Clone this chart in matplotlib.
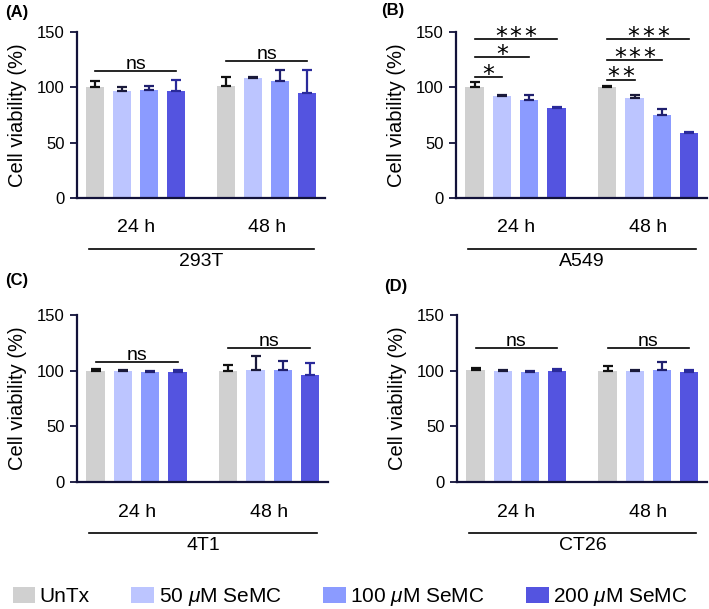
import matplotlib.pyplot as plt
from matplotlib.patches import Patch

plt.rcParams['font.family'] = ['Liberation Sans', 'DejaVu Sans']
plt.rcParams['mathtext.fontset'] = 'custom'
plt.rcParams['mathtext.rm'] = 'Liberation Sans'
plt.rcParams['mathtext.it'] = 'Liberation Sans:italic'

timepoints = ['24 h', '48 h']
treatments = ['UnTx', '50 $\\mu$M SeMC', '100 $\\mu$M SeMC', '200 $\\mu$M SeMC']
cell_lines = ['293T', 'A549', '4T1', 'CT26']
panel_tags = ['(A)', '(B)', '(C)', '(D)']
yticks = [0, 50, 100, 150]

# mean viability (%), rows = timepoints, cols = treatments
mean_293t = [[100, 97, 98, 97], [101, 108, 106, 95]]
err_293t = [[6, 3.5, 3, 10], [8, 1, 10, 21]]
mean_a549 = [[100, 92, 89, 81], [100, 90, 75, 59]]
err_a549 = [[5, 1.5, 4, 1], [1, 3.5, 5, 1]]
mean_4t1 = [[100, 100, 99, 99], [100, 100.5, 100.5, 96]]
err_4t1 = [[1.5, 1, 1, 1.5], [5.5, 13, 8, 10.5]]
mean_ct26 = [[101, 100, 99, 100], [100, 100, 100.5, 99]]
err_ct26 = [[1.5, 1, 1, 1.5], [4.5, 1, 7, 1.5]]

# significance brackets: (timepoint, from bar, to bar, height, label)
sig_293t = [(0, 0, 3, 115, 'ns'), (1, 0, 3, 123.5, 'ns')]
sig_a549 = [(0, 0, 1, 109.5, '*'), (0, 0, 2, 127.5, '*'), (0, 0, 3, 144, '***'),
            (1, 0, 1, 107, '**'), (1, 0, 2, 124.5, '***'), (1, 0, 3, 143.5, '***')]
sig_4t1 = [(0, 0, 3, 108, 'ns'), (1, 0, 3, 120.5, 'ns')]
sig_ct26 = [(0, 0, 3, 120, 'ns'), (1, 0, 3, 120, 'ns')]

BAR_COLOURS = ['#d0d0d0', '#bcc5ff', '#8b9bff', '#5454e0']
ERR_COLOURS = ['#111111', '#1a1a3a', '#20206e', '#2a2a9a']
SPINE_COLOUR = '#12123a'
GROUP_OFFSET = 4.85
STAR_PITCH = 10.5  # points between neighbouring asterisks

W, H = 709, 609
fig = plt.figure(figsize=(W / 100, H / 100), dpi=100)

# axes boxes in pixels: left, right, top, bottom
boxes = [(77, 325, 32, 198), (456, 707, 32, 198), (77, 328, 315, 482), (457, 707, 315, 482)]
means = [mean_293t, mean_a549, mean_4t1, mean_ct26]
errs = [err_293t, err_a549, err_4t1, err_ct26]
sigs = [sig_293t, sig_a549, sig_4t1, sig_ct26]
tag_pos = [(5, 13), (381, 11), (5, 280), (384, 286)]


def bar_x(t, i):
    return t * GROUP_OFFSET + i


for k in range(4):
    l, r, t_, b = boxes[k]
    ax = fig.add_axes([l / W, 1 - b / H, (r - l) / W, (b - t_) / H])

    for t in range(len(timepoints)):
        for i in range(len(treatments)):
            x = bar_x(t, i)
            m = means[k][t][i]
            e = errs[k][t][i]
            ax.bar(x, m, width=0.67, color=BAR_COLOURS[i], zorder=2)
            ax.errorbar(x, m, yerr=[[0], [e]], fmt='none', ecolor=ERR_COLOURS[i],
                        elinewidth=1.6, capsize=3.6, capthick=1.6, zorder=3)

    # significance lines
    for t, i0, i1, y, lab in sigs[k]:
        x0, x1 = bar_x(t, i0), bar_x(t, i1)
        xc = (x0 + x1) / 2
        ax.plot([x0, x1], [y, y], color='k', lw=1.2, clip_on=False)
        if lab == 'ns':
            ax.annotate(lab, xy=(xc, y), xytext=(0, 1.5), textcoords='offset points',
                        ha='center', va='baseline', fontsize=14)
        else:
            n = len(lab)
            for j in range(n):
                dx = (j - (n - 1) / 2) * STAR_PITCH
                ax.annotate('*', xy=(xc, y), xytext=(dx, -3.5), textcoords='offset points',
                            ha='center', va='baseline', fontsize=17, family='DejaVu Sans')

    # group labels, separator line and cell line name below the axis
    trans = ax.get_xaxis_transform()
    for t, lab in enumerate(timepoints):
        ax.text(bar_x(t, 1.5), -0.18, lab, transform=trans, ha='center', va='center', fontsize=14)
    ax.plot([-0.25, 8.1], [-0.305, -0.305], transform=trans, color='k', lw=1.2, clip_on=False)
    ax.text((bar_x(0, 0) + bar_x(1, 3)) / 2, -0.38, cell_lines[k], transform=trans,
            ha='center', va='center', fontsize=14)

    ax.set_xlim(-0.68, 8.5)
    ax.set_ylim(0, 150)
    ax.set_yticks(yticks)
    ax.set_xticks([])
    ax.tick_params(axis='y', labelsize=12, length=5, width=1.3, color=SPINE_COLOUR, pad=4)
    ax.set_ylabel('Cell viability (%)', fontsize=14.5, labelpad=7)
    for s in ['top', 'right']:
        ax.spines[s].set_visible(False)
    for s in ['left', 'bottom']:
        ax.spines[s].set_linewidth(1.6)
        ax.spines[s].set_color(SPINE_COLOUR)

    tx, ty = tag_pos[k]
    fig.text(tx / W, 1 - ty / H, panel_tags[k], fontsize=12, fontweight='bold', ha='left', va='center')

legend_elements = [Patch(facecolor=c, edgecolor='none', label=lab) for c, lab in zip(BAR_COLOURS, treatments)]
fig.legend(handles=legend_elements, loc='center', bbox_to_anchor=(350 / W, 1 - 597 / H),
           ncol=4, frameon=False, fontsize=15, handlelength=1.1, handleheight=0.77,
           handletextpad=0.2, columnspacing=2.0, borderaxespad=0, borderpad=0)

plt.savefig('out.png', dpi=100)
